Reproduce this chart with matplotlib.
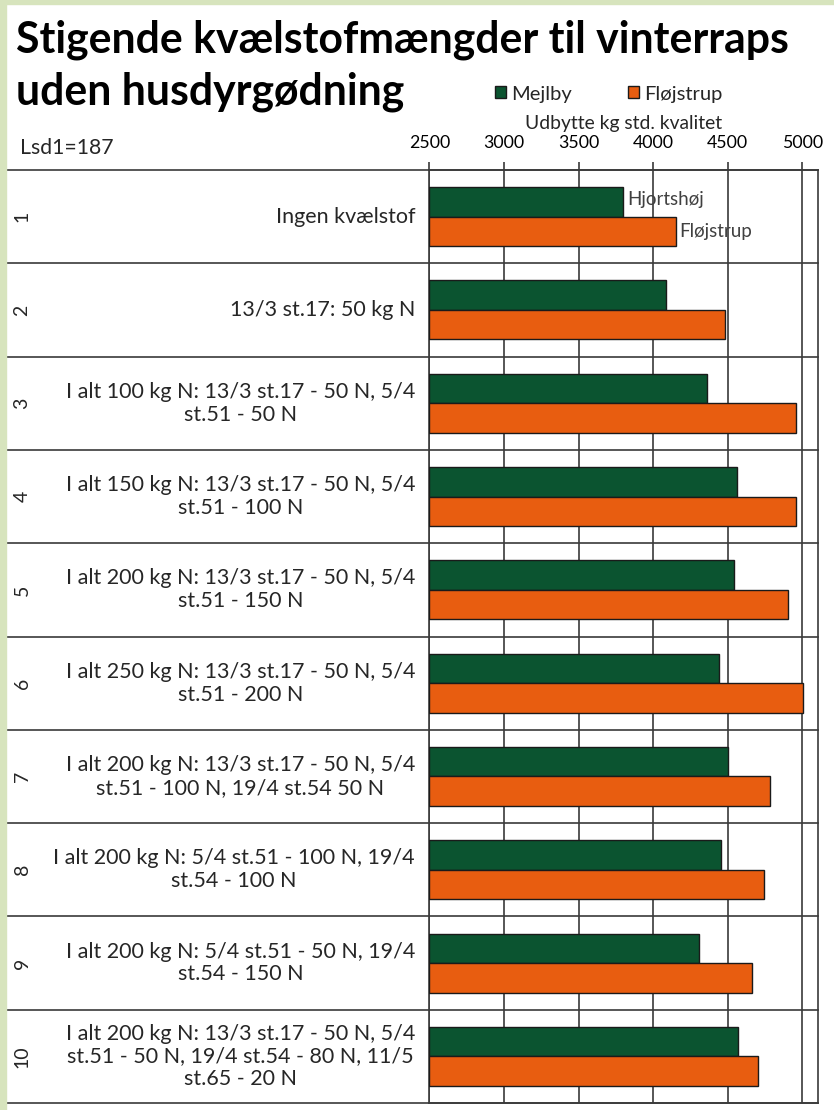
import matplotlib.pyplot as plt
from matplotlib.patches import Rectangle

plt.rcParams['font.family'] = ['Lato', 'DejaVu Sans']

# udbytte kg std. kvalitet pr. forsøgsled
led = [1, 2, 3, 4, 5, 6, 7, 8, 9, 10]
behandling = [
    "Ingen kvælstof",
    "13/3 st.17: 50 kg N",
    "I alt 100 kg N: 13/3 st.17 - 50 N, 5/4\nst.51 - 50 N",
    "I alt 150 kg N: 13/3 st.17 - 50 N, 5/4\nst.51 - 100 N",
    "I alt 200 kg N: 13/3 st.17 - 50 N, 5/4\nst.51 - 150 N",
    "I alt 250 kg N: 13/3 st.17 - 50 N, 5/4\nst.51 - 200 N",
    "I alt 200 kg N: 13/3 st.17 - 50 N, 5/4\nst.51 - 100 N, 19/4 st.54 50 N",
    "I alt 200 kg N: 5/4 st.51 - 100 N, 19/4\nst.54 - 100 N",
    "I alt 200 kg N: 5/4 st.51 - 50 N, 19/4\nst.54 - 150 N",
    "I alt 200 kg N: 13/3 st.17 - 50 N, 5/4\nst.51 - 50 N, 19/4 st.54 - 80 N, 11/5\nst.65 - 20 N",
]
mejlby = [3800, 4085, 4360, 4560, 4540, 4440, 4500, 4455, 4305, 4570]
flojstrup = [4150, 4485, 4960, 4960, 4905, 5005, 4780, 4745, 4665, 4705]
xticks = [2500, 3000, 3500, 4000, 4500, 5000]

GREEN = '#0b5430'
ORANGE = '#e85d10'
LINE = '#3a3a3a'
TXT = '#262626'

W, H = 834, 1110
fig = plt.figure(figsize=(W / 100, H / 100), dpi=100)

# lysegrøn kant i venstre side og øverst
fig.patches.append(Rectangle((0, 0), 6 / W, 1, transform=fig.transFigure,
                             color='#d7e4bd', zorder=0))
fig.patches.append(Rectangle((0, 1 - 4 / H), 1, 4 / H, transform=fig.transFigure,
                             color='#d7e4bd', zorder=0))

x0, x1, y0, y1 = 429.3, 817.7, 170, 1103
ax = fig.add_axes([x0 / W, 1 - y1 / H, (x1 - x0) / W, (y1 - y0) / H])

n = len(led)
bh = 0.316
ypos = [i + 0.5 for i in range(n)]
ax.barh([y - bh / 2 for y in ypos], [v - 2500 for v in mejlby], left=2500, height=bh,
        color=GREEN, edgecolor='#1a1a1a', linewidth=1, label='Mejlby', zorder=3)
ax.barh([y + bh / 2 for y in ypos], [v - 2500 for v in flojstrup], left=2500, height=bh,
        color=ORANGE, edgecolor='#1a1a1a', linewidth=1, label='Fløjstrup', zorder=3)

ax.set_xlim(2500, 5103)
ax.set_ylim(n, 0)
ax.set_xticks(xticks)
ax.set_yticks([])
ax.xaxis.tick_top()
ax.xaxis.set_label_position('top')
ax.tick_params(axis='x', direction='out', length=6, width=1.2, color=LINE,
               labelsize=12.8, pad=8, labelcolor='black')
ax.set_xlabel('Udbytte kg std. kvalitet', fontsize=13.9, color=TXT, labelpad=4)
ax.grid(axis='x', color=LINE, linewidth=1.2, zorder=1)
for s in ax.spines.values():
    s.set_color(LINE)
    s.set_linewidth(1.2)

# rækkelinjer som i tabellen
ty = ax.get_yaxis_transform()
xl = (6 - x0) / (x1 - x0)
for i in range(n + 1):
    ax.plot([xl, 1], [i, i], transform=ty, color=LINE, lw=1.2, clip_on=False, zorder=4)

xt = (415 - x0) / (x1 - x0)
xn = (22 - x0) / (x1 - x0)
for i in range(n):
    ax.text(xt, ypos[i], behandling[i], transform=ty, ha='right', va='center',
            multialignment='center', fontsize=15.5, color=TXT, linespacing=1.17)
    ax.text(xn, ypos[i], str(led[i]), transform=ty, ha='center', va='center',
            rotation=90, fontsize=14, color=TXT)

# lokalitetsnavne ud for første led
ax.annotate('Hjortshøj', (mejlby[0], ypos[0] - bh / 2), xytext=(3, 2),
            textcoords='offset points', va='center', fontsize=13.5, color='#404040')
ax.annotate('Fløjstrup', (flojstrup[0], ypos[0] + bh / 2), xytext=(3, 0),
            textcoords='offset points', va='center', fontsize=13.5, color='#404040')

ax.legend(loc='center', bbox_to_anchor=((609 - x0) / (x1 - x0), (y1 - 94) / (y1 - y0)),
          ncol=2, frameon=False, fontsize=14.5, handlelength=0.55, handleheight=0.55,
          handletextpad=0.25, columnspacing=2.8, labelcolor=TXT)

fig.text(16 / W, 1 - 40 / H, 'Stigende kvælstofmængder til vinterraps',
         fontsize=30.8, fontweight='bold', va='center', ha='left', color='black')
fig.text(16 / W, 1 - 92 / H, 'uden husdyrgødning',
         fontsize=30.8, fontweight='bold', va='center', ha='left', color='black')
fig.text(20 / W, 1 - 148 / H, 'Lsd1=187', fontsize=15.3, va='center', ha='left', color=TXT)

fig.savefig('out.png', dpi=100, facecolor='white')
